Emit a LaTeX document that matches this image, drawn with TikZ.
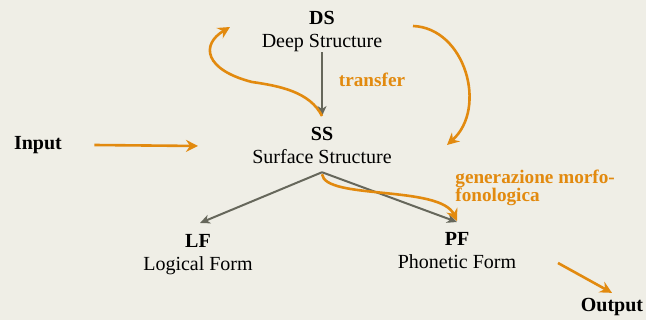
\documentclass[tikz,border=0pt]{standalone}
\usepackage{fontspec}
\setmainfont{Liberation Serif}
\usetikzlibrary{arrows.meta}
\definecolor{paper}{HTML}{EFEEE6}
\definecolor{amber}{HTML}{E28A0F}
\definecolor{slate}{HTML}{66675B}
\begin{document}
\begin{tikzpicture}[x=0.5pt, y=-0.5pt,
    level/.style={align=center, anchor=north, font=\fontsize{10}{11.5}\selectfont, inner sep=0pt},
    tag/.style={font=\fontsize{10}{12}\selectfont\bfseries, inner sep=0pt},
    note/.style={text=amber, font=\fontsize{9.6}{9}\selectfont\bfseries, inner sep=0pt},
    derive/.style={draw=slate, line width=1pt, -{Stealth[length=5pt, width=4.5pt, inset=1.5pt]}},
    flow/.style={draw=amber, line width=1.3pt, -{Stealth[length=6pt, width=6pt, inset=2pt]}}]
            \fill[paper] (0, 0) rectangle (646, 320);
            \node[level] (ds) at (322, 11) {\textbf{DS}\\Deep Structure};
            \node[level] (ss) at (322, 127) {\textbf{SS}\\Surface Structure};
            \node[level] (lf) at (198, 234) {\textbf{LF}\\Logical Form};
            \node[level] (pf) at (457, 232) {\textbf{PF}\\Phonetic Form};
            \node[tag] (input) at (38, 145) {Input};
            \node[tag] (output) at (612, 307) {Output};
            \node[note] (transfer) at (372, 80) {transfer};
            \node[note, align=left, anchor=north west] (morph) at (455, 170) {generazione morfo-\\fonologica};
            \coordinate (dsin) at (230, 27);
            \coordinate (dsout) at (413, 26);
            \coordinate (ssin) at (447, 145);
            \coordinate (feed) at (198, 146);
            \coordinate (pfout) at (558, 263);
            \draw[derive] (ds.south) -- ([yshift=5.5pt]ss.north);
            \draw[derive] ([yshift=-4pt]ss.south) -- ([xshift=1pt, yshift=5.5pt]lf.north);
            \draw[derive] ([yshift=-4pt]ss.south) -- ([yshift=5pt]pf.north);
            \draw[flow] ([yshift=5.5pt]ss.north) .. controls (310, 92) and (280, 86) .. (252, 82)
            .. controls (205, 70) and (200, 45) .. (dsin);
            \draw[flow] (dsout) .. controls (465, 28) and (488, 108) .. (ssin);
            \draw[flow] ([yshift=-5pt]ss.south) .. controls (325, 200) and (440, 185) .. ([yshift=5.5pt]pf.north);
            \draw[flow] ([xshift=16pt]input.east) -- (feed);
            \draw[flow] (pfout) -- ([yshift=2.5pt]output.north);
\end{tikzpicture}
\end{document}
